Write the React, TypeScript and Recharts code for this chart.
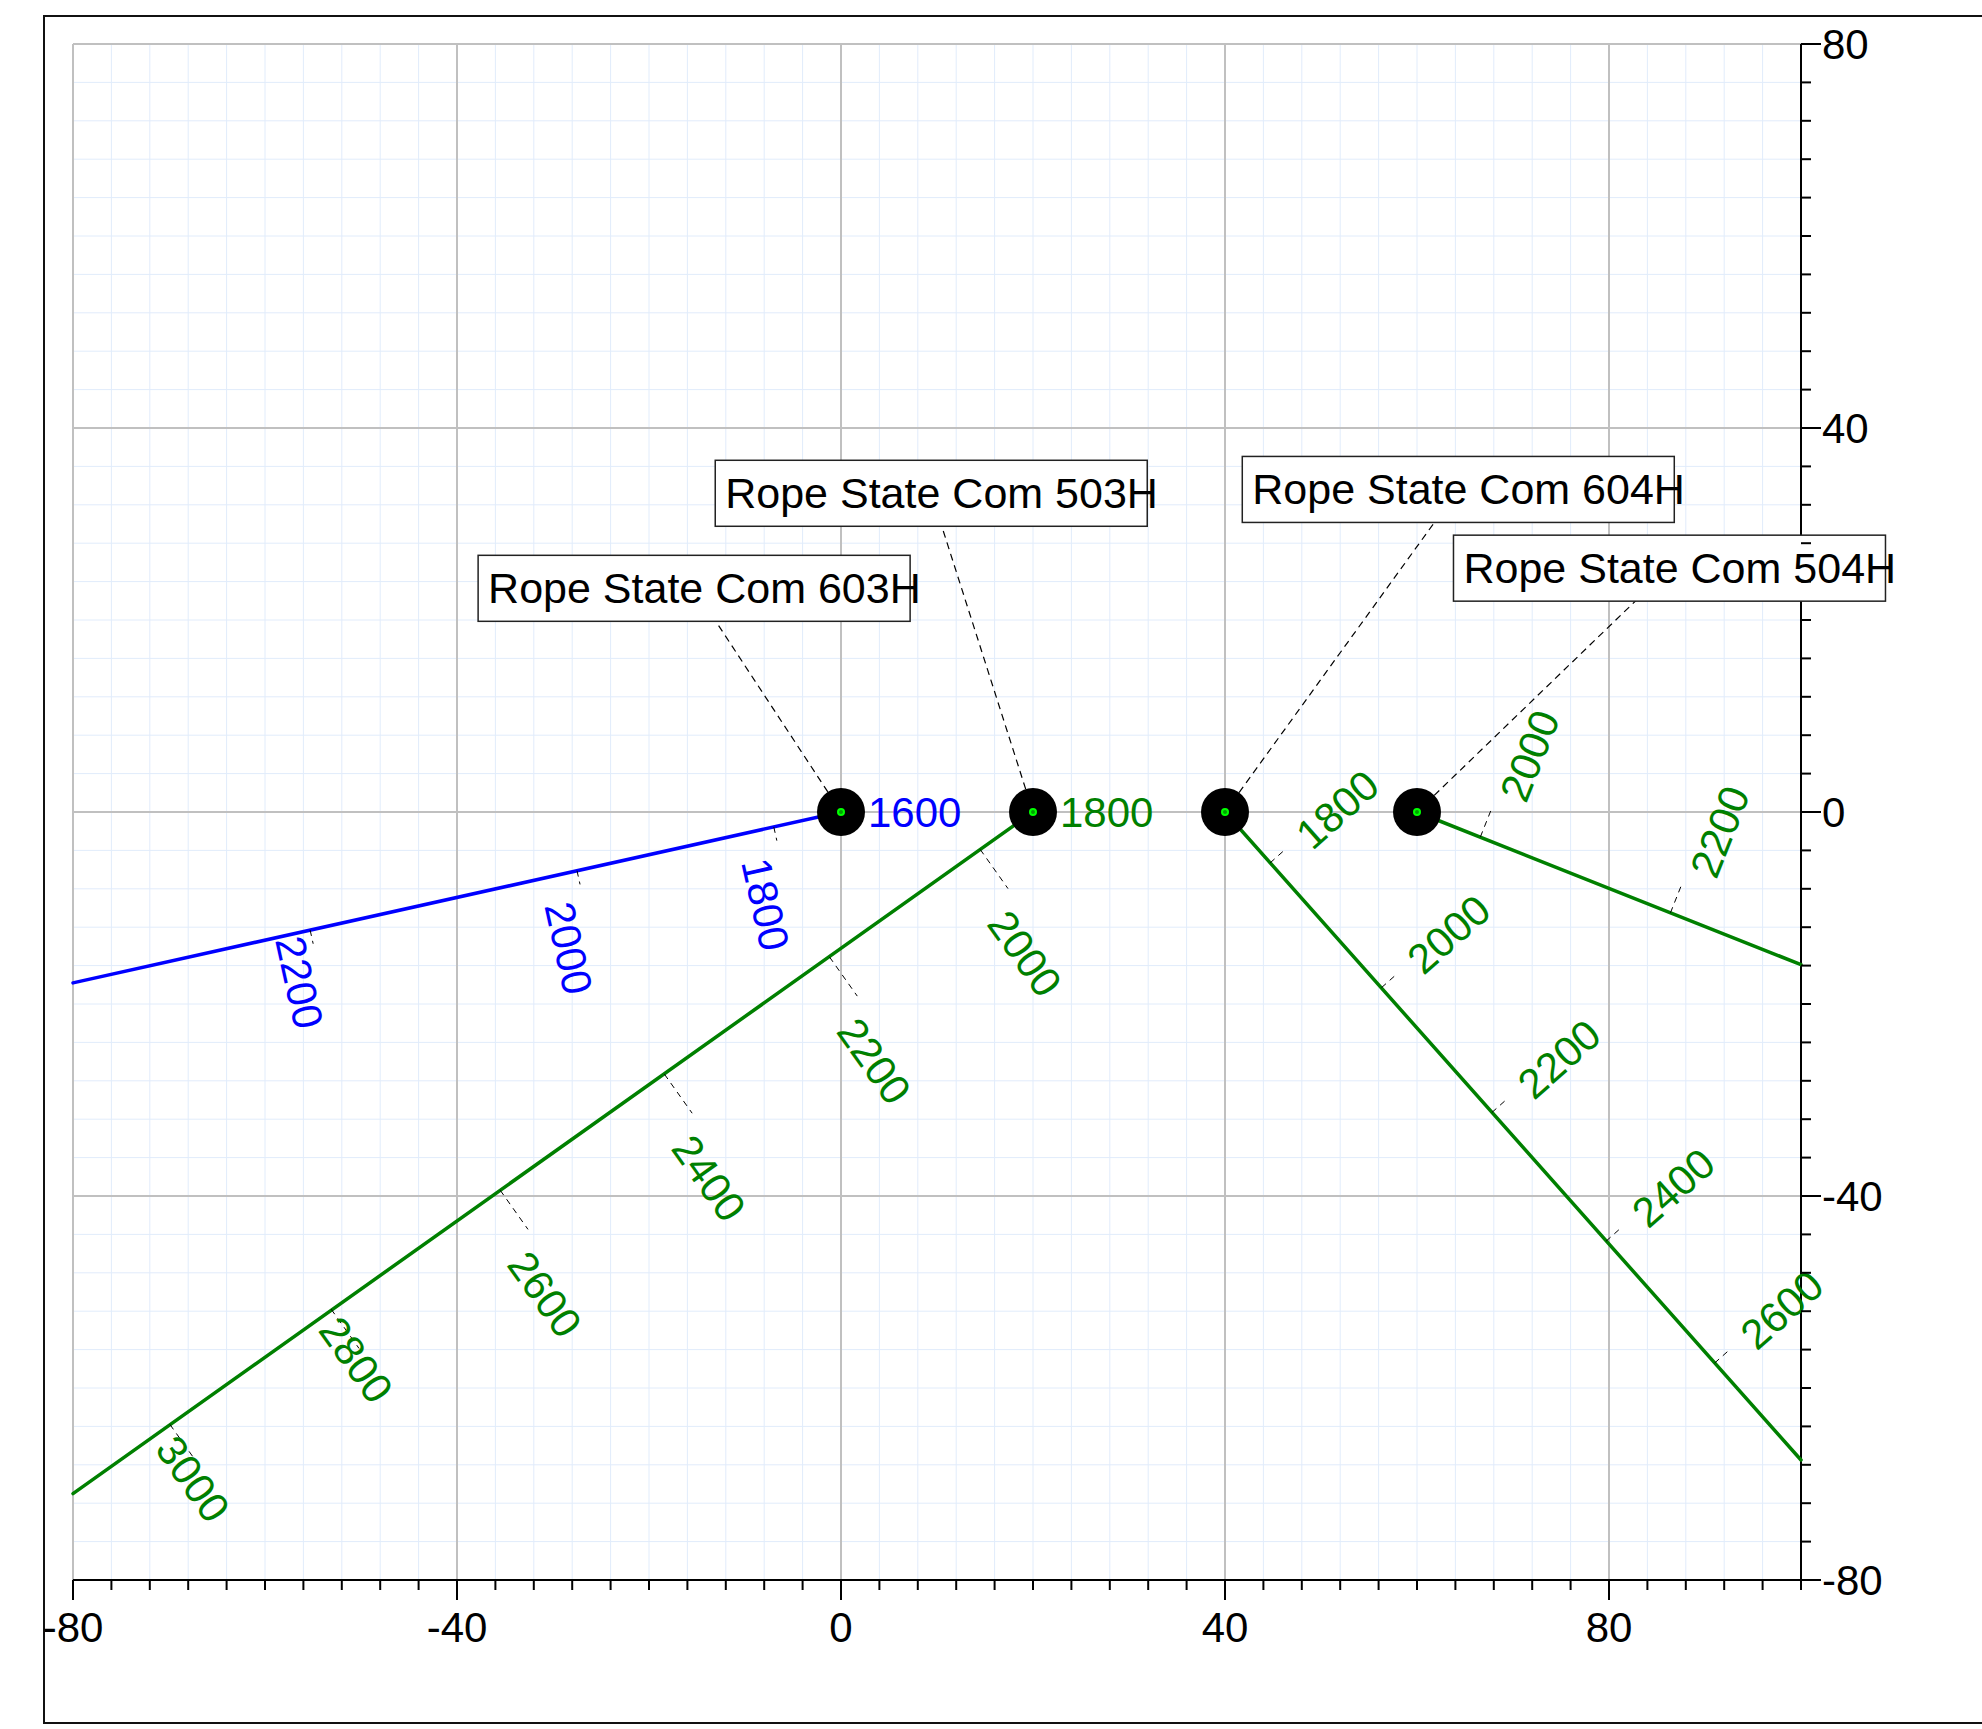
import React from 'react';
import {
  ScatterChart,
  Scatter,
  XAxis,
  YAxis,
  CartesianGrid,
  ReferenceLine,
} from 'recharts';

// well names and surface locations
const wellNames = ['Rope State Com 603H', 'Rope State Com 503H', 'Rope State Com 604H', 'Rope State Com 504H'];
const wellColors = ['#0000ff', '#008000', '#008000', '#008000'];
const surfaceMd = [1600, 1800, null, null];

// plan-view paths (surface -> edge of the plot)
const path603H = [{ x: 0, y: 0 }, { x: -80, y: -17.8 }];
const path503H = [{ x: 20, y: 0 }, { x: -80, y: -71.0 }];
const path604H = [{ x: 40, y: 0 }, { x: 100, y: -67.5 }];
const path504H = [{ x: 60, y: 0 }, { x: 100, y: -15.9 }];

// measured-depth marks along each path
const md603H = [
  { md: 1800, x: -7.0, y: -1.56 },
  { md: 2000, x: -27.5, y: -6.12 },
  { md: 2200, x: -55.3, y: -12.3 },
];
const md503H = [
  { md: 2000, x: 14.5, y: -3.9 },
  { md: 2200, x: -1.2, y: -15.1 },
  { md: 2400, x: -18.4, y: -27.3 },
  { md: 2600, x: -35.5, y: -39.4 },
  { md: 2800, x: -53.1, y: -51.8 },
  { md: 3000, x: -69.9, y: -63.8 },
];
const md604H = [
  { md: 1800, x: 44.7, y: -5.3 },
  { md: 2000, x: 56.3, y: -18.3 },
  { md: 2200, x: 67.8, y: -31.3 },
  { md: 2400, x: 79.7, y: -44.7 },
  { md: 2600, x: 91.0, y: -57.4 },
];
const md504H = [
  { md: 2000, x: 66.6, y: -2.6 },
  { md: 2200, x: 86.4, y: -10.5 },
];

// axis labels
const xLabels = [-80, -40, 0, 40, 80];
const yLabels = [-80, -40, 0, 40, 80];

// layout only: where the name boxes sit
const calloutAt = [
  { x: -15.3, y: 23.3 },
  { x: 9.4, y: 33.2 },
  { x: 64.3, y: 33.6 },
  { x: 86.3, y: 25.4 },
];
// layout only: leader length, text distance off the path, slide along the path (px)
const mdLayout = [
  { leader: 14, text: 27, along: 25 },
  { leader: 48, text: 64, along: 24 },
  { leader: 22, text: 39, along: 5 },
  { leader: 30, text: 47, along: 16 },
];
const mdLayoutOverride: Record<string, { text: number; along: number }> = {
  '0-2200': { text: 2, along: 22 },
  '1-2800': { text: 9, along: 9 },
  '1-3000': { text: 11, along: 13 },
};

const paths = [path603H, path503H, path604H, path504H];
const mdMarks = [md603H, md503H, md604H, md504H];

const FONT = '"Liberation Sans", Arial, sans-serif';

const range = (a: number, b: number, step: number) => {
  const out: number[] = [];
  for (let v = a; v <= b; v += step) out.push(v);
  return out;
};
const xTicks = range(-80, 100, 4);
const yTicks = range(-80, 80, 4);

const XTick = (props: any) => {
  const { x, y, payload } = props;
  const major = xLabels.includes(payload.value);
  return (
    <g>
      <line x1={x} x2={x} y1={y} y2={y + (major ? 20 : 10)} stroke="#000" strokeWidth={2} />
      {major && (
        <text x={x} y={y + 62} textAnchor="middle" fontSize={42} fontFamily={FONT} fill="#000">
          {payload.value}
        </text>
      )}
    </g>
  );
};

const YTick = (props: any) => {
  const { x, y, payload } = props;
  const major = yLabels.includes(payload.value);
  return (
    <g>
      <line x1={x} x2={x + (major ? 20 : 10)} y1={y} y2={y} stroke="#000" strokeWidth={2} />
      {major && (
        <text x={x + 21} y={y} dominantBaseline="central" fontSize={42} fontFamily={FONT} fill="#000">
          {payload.value}
        </text>
      )}
    </g>
  );
};

// screen angle of a path (equal px per unit on both axes)
const pathAngle = (path: { x: number; y: number }[]) => {
  const a = path[0];
  const b = path[path.length - 1];
  return (Math.atan2(-(b.y - a.y), b.x - a.x) * 180) / Math.PI;
};

const mdShape = (wi: number) => (props: any) => {
  const { cx, cy, payload } = props;
  const color = wellColors[wi];
  const dir = pathAngle(paths[wi]);
  const angle = dir - 90;
  const base = mdLayout[wi];
  const over = mdLayoutOverride[`${wi}-${payload.md}`];
  const textOff = over ? over.text : base.text;
  const along = over ? over.along : base.along;
  const nr = (angle * Math.PI) / 180;
  const dr = (dir * Math.PI) / 180;
  const nx = Math.cos(nr);
  const ny = Math.sin(nr);
  const ux = Math.cos(dr);
  const uy = Math.sin(dr);
  const tx = cx + nx * textOff + ux * along;
  const ty = cy + ny * textOff + uy * along;
  return (
    <g>
      <line
        x1={cx}
        y1={cy}
        x2={cx + nx * base.leader}
        y2={cy + ny * base.leader}
        stroke="#000"
        strokeWidth={1}
        strokeDasharray="6 5"
      />
      <text
        x={tx}
        y={ty}
        transform={`rotate(${angle} ${tx} ${ty})`}
        fill={color}
        fontSize={42}
        fontFamily={FONT}
        dominantBaseline="central"
      >
        {payload.md}
      </text>
    </g>
  );
};

const headShape = (color: string, md: number | null) => (props: any) => {
  const { cx, cy } = props;
  return (
    <g>
      <circle cx={cx} cy={cy} r={24} fill="#000" />
      <circle cx={cx} cy={cy} r={3} fill="#00a000" stroke="#00ff00" strokeWidth={2} />
      {md != null && (
        <text x={cx + 27} y={cy} fill={color} fontSize={42} fontFamily={FONT} dominantBaseline="central">
          {md}
        </text>
      )}
    </g>
  );
};

const boxShape = (name: string) => (props: any) => {
  const { cx, cy } = props;
  return (
    <g>
      <rect x={cx - 216} y={cy - 33} width={432} height={66} fill="#fff" stroke="#222" strokeWidth={1.5} />
      <text x={cx - 206} y={cy + 15} fontSize={43} fontFamily={FONT} fill="#000">
        {name}
      </text>
    </g>
  );
};

const pathLine = (color: string) => (props: any) => {
  const pts = (props.points || []) as { x: number; y: number }[];
  return (
    <polyline
      points={pts.map((p) => `${p.x},${p.y}`).join(' ')}
      fill="none"
      stroke={color}
      strokeWidth={3.5}
      strokeLinecap="round"
    />
  );
};

const emptyShape = () => <g />;

export default function App() {
  return (
    <div style={{ position: 'fixed', left: 0, top: 0, width: 1982, height: 1729, overflow: 'hidden', background: '#fff' }}>
      <div
        style={{
          position: 'absolute',
          left: 43,
          top: 15,
          width: 2100,
          height: 1709,
          border: '2px solid #111',
          boxSizing: 'border-box',
        }}
      />
      <div style={{ position: 'absolute', left: 0, top: 0 }}>
        <ScatterChart width={1921} height={1680} margin={{ top: 44, left: 73, right: 0, bottom: 0 }}>
          <CartesianGrid stroke="#e1ecfb" strokeWidth={1} />
          <XAxis
            type="number"
            dataKey="x"
            domain={[-80, 100]}
            ticks={xTicks}
            interval={0}
            height={100}
            tickSize={0}
            tickMargin={0}
            tickLine={false}
            axisLine={{ stroke: '#000', strokeWidth: 2 }}
            tick={<XTick />}
          />
          <YAxis
            type="number"
            dataKey="y"
            orientation="right"
            domain={[-80, 80]}
            ticks={yTicks}
            interval={0}
            width={120}
            tickSize={0}
            tickMargin={0}
            tickLine={false}
            axisLine={{ stroke: '#000', strokeWidth: 2 }}
            tick={<YTick />}
          />
          {xLabels.map((v) => (
            <ReferenceLine key={`vx${v}`} x={v} stroke="#c0c0c0" strokeWidth={2} />
          ))}
          {[80, 40, 0, -40].map((v) => (
            <ReferenceLine key={`hy${v}`} y={v} stroke="#c0c0c0" strokeWidth={2} />
          ))}
          {paths.map((p, i) => (
            <Scatter
              key={`path${i}`}
              data={p}
              fill={wellColors[i]}
              line={pathLine(wellColors[i])}
              shape={emptyShape}
              isAnimationActive={false}
              legendType="none"
            />
          ))}
          {paths.map((p, i) => (
            <Scatter
              key={`head${i}`}
              data={[p[0]]}
              shape={headShape(wellColors[i], surfaceMd[i])}
              isAnimationActive={false}
              legendType="none"
            />
          ))}
          {mdMarks.map((m, i) => (
            <Scatter
              key={`md${i}`}
              data={m}
              shape={mdShape(i)}
              isAnimationActive={false}
              legendType="none"
            />
          ))}
          {paths.map((p, i) => (
            <ReferenceLine
              key={`lead${i}`}
              segment={[p[0], calloutAt[i]]}
              stroke="#000"
              strokeWidth={1.2}
              strokeDasharray="7 5"
            />
          ))}
          {wellNames.map((n, i) => (
            <Scatter
              key={`box${i}`}
              data={[calloutAt[i]]}
              shape={boxShape(n)}
              isAnimationActive={false}
              legendType="none"
            />
          ))}
        </ScatterChart>
      </div>
    </div>
  );
}
